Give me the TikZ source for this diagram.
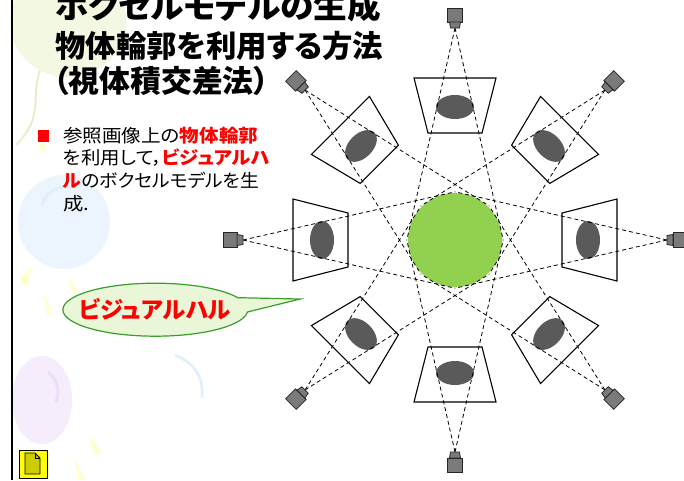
\documentclass[tikz,border=0pt]{standalone}
\usepackage{fontspec}
\usepackage{graphicx}
\newfontfamily\jp{Noto Sans CJK JP}[RawFeature=+palt]
\definecolor{camgray}{HTML}{7A7A7A}
\definecolor{silgray}{HTML}{5A5A5A}
\definecolor{hullgreen}{HTML}{92D050}
\definecolor{calloutfill}{HTML}{EAF6D8}
\definecolor{calloutline}{HTML}{3A9E2A}
\definecolor{iconyellow}{HTML}{FFFF00}
\definecolor{iconolive}{HTML}{CCCC00}
\definecolor{palegreen}{HTML}{F2F8E2}
\definecolor{palegreenline}{HTML}{E4F0CC}
\definecolor{paleblue}{HTML}{ECF5FD}
\definecolor{paleblueline}{HTML}{DEEEFB}
\definecolor{palepurple}{HTML}{F5ECFC}
\definecolor{palepurpleline}{HTML}{ECDEF8}
\definecolor{paleyellow}{HTML}{FFFFD0}
\newcommand\redbold[1]{{\bfseries\color{red}#1}}
% set a line of text to a given width, keeping its height
\newcommand\fitw[2]{\resizebox{#1pt}{\height}{#2}}
\tikzset{
  frustum/.style={draw=black, line width=1.1pt, fill=white},
  silhouette/.style={fill=silgray, draw=none},
  ray/.style={draw=black, line width=0.8pt, dash pattern=on 4pt off 3pt},
  cambody/.style={fill=camgray, draw=black!85, line width=0.8pt},
  titletext/.style={anchor=base west, inner sep=0pt, font=\jp\bfseries\fontsize{30.5}{30.5}\selectfont},
  bodytext/.style={anchor=base west, inner sep=0pt, font=\jp\fontsize{18}{18}\selectfont},
  deco/.style={draw=none}
}
\begin{document}
\begin{tikzpicture}[x=1pt,y=-1pt]
\useasboundingbox (0,0) rectangle (684,480);
\fill[white] (0,0) rectangle (684,480);

% faint background decorations
\fill[deco, fill=palegreen] (68,22) ellipse [x radius=58, y radius=55];
\draw[palegreenline, line width=2pt] (40,70) .. controls (30,100) and (45,115) .. (16,145);
\fill[deco, fill=paleblue] (64,222) ellipse [x radius=46, y radius=47];
\draw[paleblueline, line width=3pt] (42,205) .. controls (46,190) and (60,185) .. (72,188);
\fill[deco, fill=palepurple] (42,400) ellipse [x radius=30, y radius=44];
\draw[palepurpleline, line width=3pt] (48,372) .. controls (58,380) and (60,392) .. (56,402);
\draw[paleblueline, line width=2.5pt] (175,355) .. controls (192,362) and (204,375) .. (202,398);
\begin{scope}[fill=paleyellow]
  \fill (39,143) -- (47,143) -- (42,156) -- cycle;
  \fill (19,278) -- (32,267) -- (26,288) -- cycle;
  \fill (44,290) -- (47,316) -- (52,315) -- cycle;
  \fill (88,434) -- (102,452) -- (95,455) -- cycle;
  \fill (74,457) -- (78,480) -- (85,480) -- cycle;
  \fill (68,276) -- (78,292) -- (72,294) -- cycle;
\end{scope}

% left rule
\draw[black, line width=2pt] (12,0) -- (12,480);

% title
\node[titletext, font=\jp\bfseries\fontsize{32}{32}\selectfont] (t1) at (55,18) {\fitw{326}{ボクセルモデルの生成}};
\node[titletext] (t2) at (55,57.5) {\fitw{328}{物体輪郭を利用する方法}};
\node[titletext] (t3) at (53,92.5) {\fitw{216}{（視体積交差法）}};

% bullet text
\fill[red] (38,130) rectangle (49,142);
\node[bodytext] (b1) at (63,142.3) {\fitw{195}{参照画像上の\redbold{物体輪郭}}};
\node[bodytext] (b2) at (63,164.9) {\fitw{206}{を利用して，\redbold{ビジュアルハ}}};
\node[bodytext] (b3) at (63,187.5) {\fitw{196}{\redbold{ル}のボクセルモデルを生}};
\node[bodytext] (b4) at (63,210.1) {\fitw{26}{成.}};

% frusta and silhouettes around the object
\foreach \k in {0,...,7}{
  \begin{scope}[shift={(455,240)}, rotate=\k*45]
    \draw[frustum] (-41,-162) -- (41,-162) -- (27,-107) -- (-27,-107) -- cycle;
    \fill[silhouette] (0,-133) ellipse [x radius=19, y radius=12];
  \end{scope}
}

% the object
\node[circle, fill=hullgreen, minimum size=94pt, inner sep=0pt] (obj) at (455,240) {};

% cameras and their viewing rays
\foreach \k in {0,...,7}{
  \begin{scope}[shift={(455,240)}, rotate=\k*45]
    \coordinate (apex\k) at (0,-212);
    \coordinate (rayl\k) at (-48.2,0);
    \coordinate (rayr\k) at (48.2,0);
    \draw[ray] (apex\k) -- (rayl\k);
    \draw[ray] (apex\k) -- (rayr\k);
    \draw[cambody] (-7.5,-232) rectangle (7.5,-218);
    \draw[cambody] (-5.5,-218) -- (5.5,-218) -- (4.5,-212) -- (-4.5,-212) -- cycle;
  \end{scope}
}

% callout
\coordinate (tip) at (300,299);
\draw[fill=calloutfill, draw=calloutline, line width=1.2pt]
  (tip) -- (247.5,312) arc[start angle=5, end angle=333, x radius=92.5, y radius=26.5] -- cycle;
\node[inner sep=0pt, font=\jp\bfseries\fontsize{23}{23}\selectfont, text=red] (hull) at (155,309) {\fitw{152}{ビジュアルハル}};

% document icon
\draw[fill=iconyellow, draw=black, line width=0.8pt] (19,450) rectangle (47,478);
\draw[fill=iconolive, draw=black, line width=0.8pt] (25,453) -- (35,453) -- (40,458) -- (40,474) -- (25,474) -- cycle;
\draw[black, line width=0.6pt] (35,453) -- (35,458) -- (40,458);
\end{tikzpicture}
\end{document}
